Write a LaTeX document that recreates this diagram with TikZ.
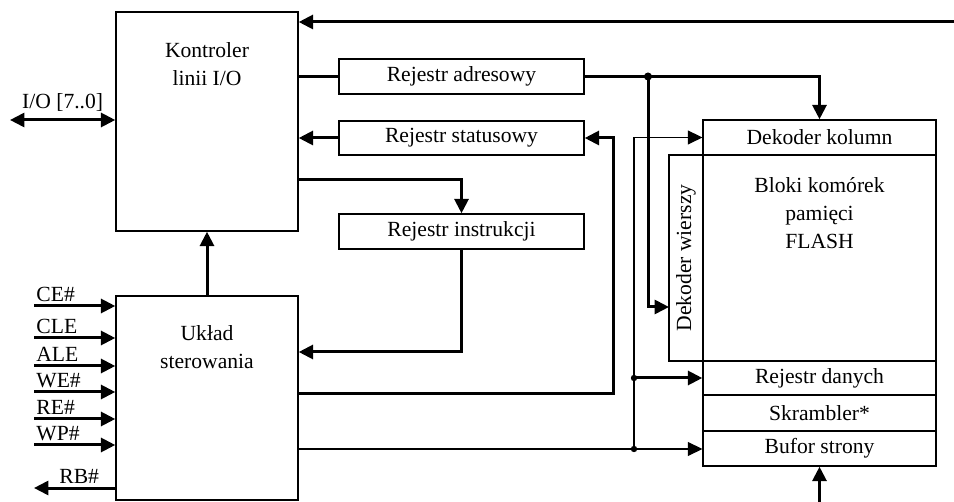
\documentclass[tikz,border=0pt]{standalone}
\usepackage{fontspec}
\setmainfont{Liberation Serif}
\usetikzlibrary{arrows.meta}

\begin{document}
\begin{tikzpicture}[x=0.5pt,y=-0.5pt,font=\fontsize{10.8}{14}\selectfont]

	\tikzset{blk/.style = {draw, rectangle, line width=0.7pt, inner sep=0pt}}
	\tikzset{bus/.style = {line width=1.5pt}}
	\tikzset{wire/.style = {line width=0.6pt}}
	\tikzset{>={Triangle[length=7.2pt,width=7pt]}}
	\tikzset{txt/.style = {align=center, inner sep=0pt}}

	\useasboundingbox (0,0) rectangle (954,502);

	% bloki po lewej
	\node[blk, minimum width=91pt, minimum height=109.5pt] (kontr) at (207,121.5) {};
	\node[txt] (kontrtxt) at (207,64) {Kontroler\\linii I/O};
	\node[blk, minimum width=91pt, minimum height=102pt] (uklad) at (207,398) {};
	\node[txt] (ukladtxt) at (207,347) {Układ\\sterowania};

	% rejestry
	\node[blk, minimum width=122.5pt, minimum height=17.5pt] (radr) at (461.5,76.5) {Rejestr adresowy};
	\node[blk, minimum width=122.5pt, minimum height=17pt] (rstat) at (461.5,138) {Rejestr statusowy};
	\node[blk, minimum width=122.5pt, minimum height=17.5pt] (rinstr) at (461.5,231.5) {Rejestr instrukcji};

	% pamiec
	\node[blk, minimum width=116.5pt, minimum height=17.5pt] (dkol) at (819.5,137.5) {Dekoder kolumn};
	\node[blk, minimum width=116.5pt, minimum height=103pt] (bloki) at (819.5,258) {};
	\node[txt] (blokitxt) at (819.5,213) {Bloki komórek\\pamięci\\FLASH};
	\node[blk, minimum width=17pt, minimum height=103pt] (dwier) at (686,258) {};
	\node[rotate=90] (dwiertxt) at (686,258) {Dekoder wierszy};
	\node[blk, minimum width=116.5pt, minimum height=17pt] (rdan) at (819.5,378) {Rejestr danych};
	\node[blk, minimum width=116.5pt, minimum height=18pt] (skr) at (819.5,413) {Skrambler*};
	\node[blk, minimum width=116.5pt, minimum height=17.5pt] (buf) at (819.5,448.5) {Bufor strony};

	% punkty pomocnicze
	\coordinate (topin) at (954,22);
	\coordinate (ioend) at (10,120);
	\coordinate (j1) at (648,76.5);
	\coordinate (wrow) at (669,307);
	\coordinate (s1) at (613,394);
	\coordinate (i1) at (461.5,180);
	\coordinate (i2) at (461.5,352);
	\coordinate (b1) at (634,449);
	\coordinate (b2) at (634,378);
	\coordinate (bot) at (819.5,502);
	\coordinate (rbout) at (34,488);

	% polaczenia
	\draw[bus,->] (topin) -- (kontr.east |- topin);
	\draw[bus,<->] (ioend) -- (kontr.west |- ioend) node[midway, above] (iolab) {I/O [7..0]};
	\draw[bus] (kontr.east |- radr) -- (radr);
	\draw[bus,->] (radr.east) -- (j1) -| (dkol.north);
	\draw[bus,->] (j1) |- (wrow);
	\draw[bus,->] (rstat.west) -- (kontr.east |- rstat.west);
	\draw[bus,->] (uklad.east |- s1) -- (s1) |- (rstat.east);
	\draw[bus,->] (kontr.east |- i1) -- (i1) -- (rinstr.north);
	\draw[bus,->] (rinstr.south) -- (i2) -- (uklad.east |- i2);
	\draw[bus,->] (uklad.north) -- (kontr.south);
	\draw[wire,->] (uklad.east |- b1) -- (buf.west |- b1);
	\draw[wire,->] (b1) |- (dkol.west);
	\draw[bus,->] (b2) -- (rdan.west);
	\draw[bus,->] (bot) -- (buf.south);
	\fill (j1) circle (2pt);
	\fill (b1) circle (1.6pt);
	\fill (b2) circle (1.6pt);

	% sygnaly sterujace
	\foreach \yy/\sname [count=\i] in {306/CE\#, 338/CLE, 366/ALE, 392/WE\#, 419/RE\#, 445/WP\#} {
		\coordinate (in\i) at (34,\yy);
		\draw[bus,->] (in\i) -- (uklad.west |- in\i);
		\node[anchor=base west, inner sep=0pt] (lab\i) at (36,\yy-4.5) {\sname};
	}
	\draw[bus,->] (uklad.west |- rbout) -- (rbout);
	\node[anchor=base west, inner sep=0pt] (rblab) at (59,483) {RB\#};

\end{tikzpicture}
\end{document}
